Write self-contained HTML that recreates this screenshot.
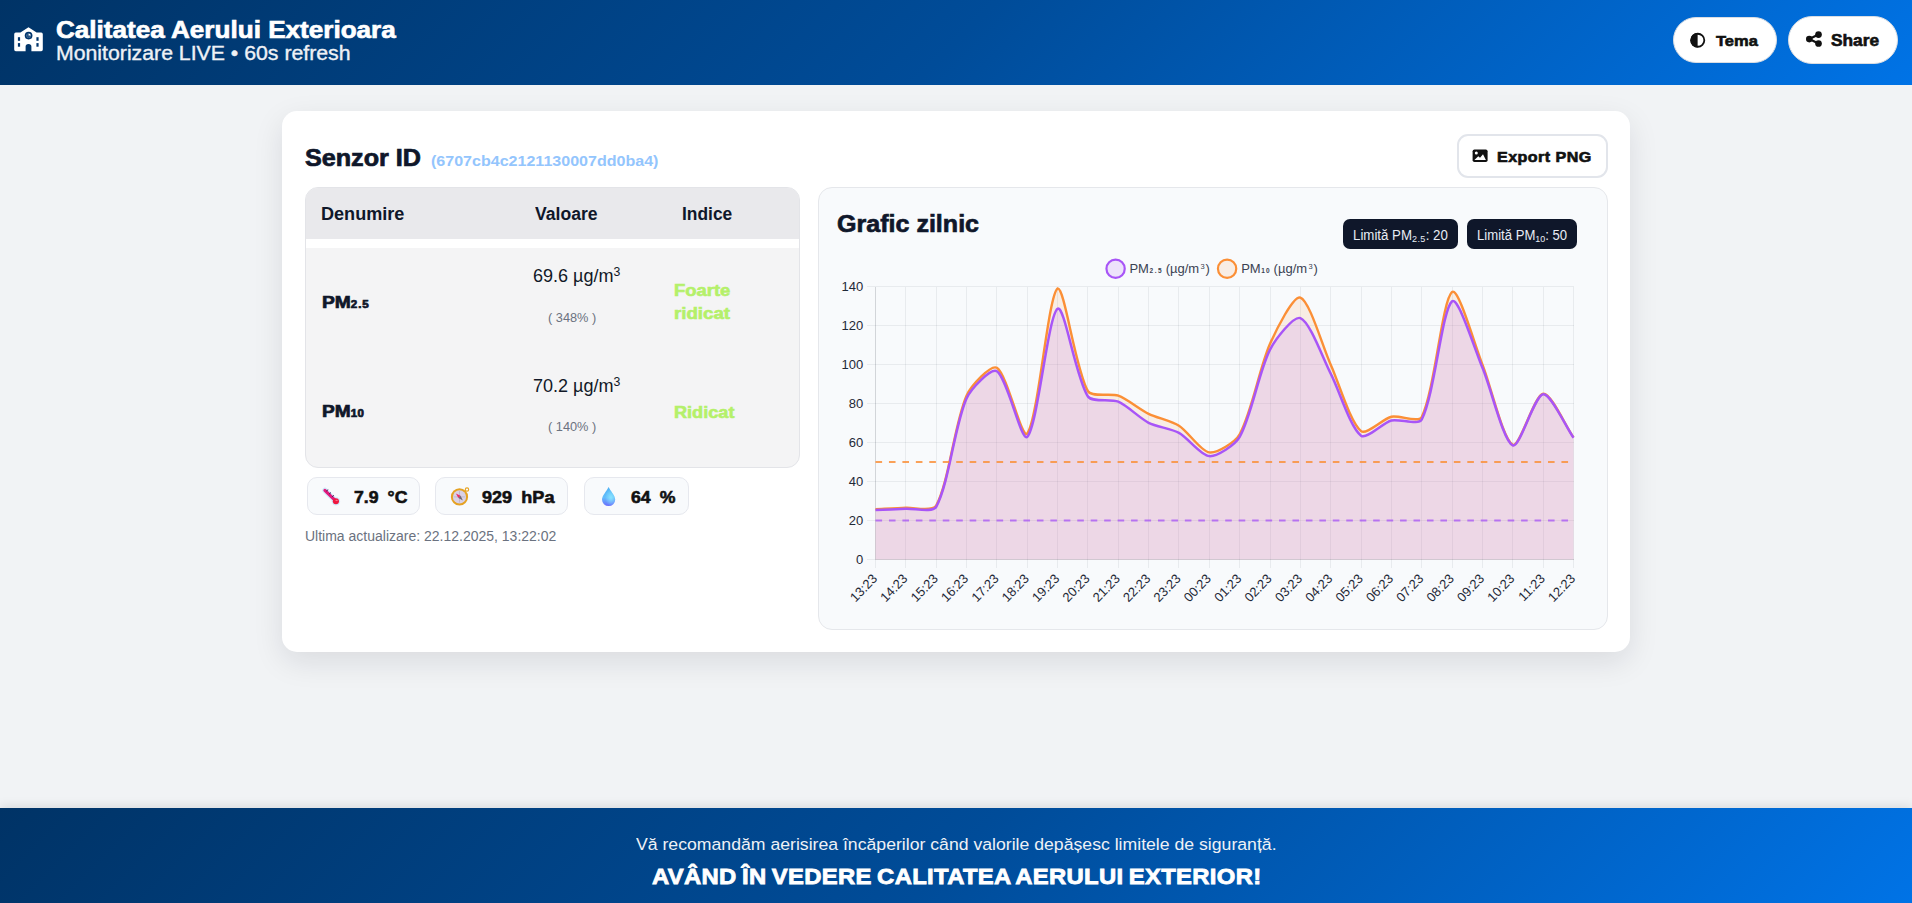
<!DOCTYPE html>
<html lang="ro">
<head>
<meta charset="utf-8">
<title>Calitatea Aerului Exterioara</title>
<style>
*{box-sizing:border-box;margin:0;padding:0}
html,body{width:1912px;height:903px;overflow:hidden}
body{font-family:"Liberation Sans",sans-serif;background:#f1f3f5;color:#0f172a;position:relative}
.abs{position:absolute}
.t{position:absolute;white-space:nowrap;line-height:1;transform-origin:0 0}
.blk{-webkit-text-stroke:0.6px currentColor}
header{position:absolute;left:0;top:0;width:1912px;height:85px;background:linear-gradient(135deg,#003366 0%,#004c99 50%,#0073e6 100%)}
footer{position:absolute;left:0;top:808px;width:1912px;height:95px;background:linear-gradient(135deg,#003366 0%,#004c99 50%,#0073e6 100%);box-shadow:0 -2px 10px rgba(0,0,0,.10)}
.pill{position:absolute;background:#fff;border-radius:999px;border:1px solid #d9dde3}
.card{position:absolute;left:282px;top:111px;width:1348px;height:541px;background:#fff;border-radius:15px;box-shadow:0 10px 30px rgba(15,23,42,.10)}
.export{position:absolute;left:1457px;top:134px;width:151px;height:43.6px;border:2px solid #e2e5eb;border-radius:11px;background:#fff}
.tbl{position:absolute;left:305px;top:187px;width:495px;height:281px;border:1px solid #e3e4e8;border-radius:13px;background:#f4f4f5;overflow:hidden}
.tbl .hd{position:absolute;left:0;top:0;width:100%;height:50.5px;background:#e9e9ec}
.tbl .gap{position:absolute;left:0;top:50.5px;width:100%;height:9.6px;background:#fff}
.chip{position:absolute;top:477.4px;height:38px;border:1px solid #e6e8ee;border-radius:10px;background:#f8fafc}
.panel{position:absolute;left:818px;top:187px;width:790px;height:443px;border:1px solid #e5e7eb;border-radius:14px;background:#f8fafc}
.badge{position:absolute;top:219px;height:30px;border-radius:7px;background:#0f172a}
svg{position:absolute;left:0;top:0}
svg text{font-family:"Liberation Sans",sans-serif}
</style>
</head>
<body>
<header></header>

<!-- header icon + titles -->
<svg width="1912" height="903" viewBox="0 0 1912 903" style="z-index:5;pointer-events:none">
  <!-- school icon -->
  <g fill="#fff">
    <path d="M28.5 27.2 L36.6 32.6 H41.2 Q42.8 32.6 42.8 34.2 V49.6 Q42.8 51.2 41.2 51.2 H31.4 V46.6 Q31.4 43.9 28.5 43.9 Q25.6 43.9 25.6 46.6 V51.2 H15.8 Q14.2 51.2 14.2 49.6 V34.2 Q14.2 32.6 15.8 32.6 H20.4 Z"/>
  </g>
  <g fill="#00356d">
    <circle cx="28.6" cy="35.6" r="3.85"/>
    <rect x="17.9" y="37.2" width="2.2" height="3.6"/>
    <rect x="17.9" y="43.1" width="2.2" height="3.6"/>
    <rect x="36.4" y="37.2" width="2.2" height="3.6"/>
    <rect x="36.4" y="43.1" width="2.2" height="3.6"/>
  </g>
  <circle cx="28.6" cy="35.6" r="2.2" fill="#fff"/>
  <path d="M28.6 35.6 L28.6 33.2 A2.4 2.4 0 0 0 26.2 35.6 A2.4 2.4 0 0 0 28.6 38 A2.4 2.4 0 0 0 31 35.6 Z" fill="#00356d" opacity=".85"/>
</svg>


<div class="pill" id="btnTema" style="left:1673px;top:17px;width:104px;height:46px"></div>
<div class="pill" id="btnShare" style="left:1788px;top:16px;width:110px;height:48px"></div>
<svg width="1912" height="903" viewBox="0 0 1912 903" style="z-index:6;pointer-events:none">
  <!-- tema icon -->
  <circle cx="1697.8" cy="40.25" r="6.5" fill="#fff" stroke="#111" stroke-width="1.8"/>
  <path d="M1697.6 32.9 A7.35 7.35 0 0 0 1697.6 47.6 Z" fill="#111"/>
  <!-- share icon -->
  <g fill="#111" stroke="#111">
    <circle cx="1818.5" cy="34.6" r="3.35" stroke="none"/>
    <circle cx="1818.5" cy="43.5" r="3.35" stroke="none"/>
    <circle cx="1809.3" cy="39.1" r="3.3" stroke="none"/>
    <path d="M1818.5 34.6 L1809.3 39.1 L1818.5 43.5" fill="none" stroke-width="2.2"/>
  </g>
</svg>

<div class="card"></div>

<div class="export"></div>
<svg width="1912" height="903" viewBox="0 0 1912 903" style="z-index:6;pointer-events:none">
  <rect x="1472.6" y="149.4" width="15" height="12.6" rx="1.8" fill="#111"/>
  <circle cx="1476.3" cy="153.1" r="1.5" fill="#fff"/>
  <path d="M1474.4 159.9 L1478.3 156.2 L1480 157.8 L1483 154.2 L1485.9 159.9 Z" fill="#fff"/>
</svg>

<!-- table -->
<div class="tbl"><div class="hd"></div><div class="gap"></div></div>




<!-- chips -->
<div class="chip" style="left:307px;width:113px"></div>
<div class="chip" style="left:435px;width:133px"></div>
<div class="chip" style="left:584px;width:105px"></div>
<svg width="1912" height="903" viewBox="0 0 1912 903" style="z-index:6;pointer-events:none">
  <!-- thermometer -->
  <defs>
    <linearGradient id="dropg" x1="0" y1="0" x2="0" y2="1"><stop offset="0" stop-color="#4fb2f4"/><stop offset=".55" stop-color="#62bdfb"/><stop offset="1" stop-color="#6b6ffd"/></linearGradient>
    <radialGradient id="droph" cx=".68" cy=".55" r=".45"><stop offset="0" stop-color="#8be6ff" stop-opacity=".95"/><stop offset="1" stop-color="#8be6ff" stop-opacity="0"/></radialGradient>
  </defs>
  <g>
    <path d="M324.9 490.3 L335.9 501.2" stroke="#cfeafc" stroke-width="5.4" stroke-linecap="round"/>
    <circle cx="335.9" cy="501.3" r="4.2" fill="#cfeafc"/>
    <path d="M324.9 490.3 L335.9 501.2" stroke="#e3197c" stroke-width="3.1" stroke-linecap="round"/>
    <circle cx="335.9" cy="501.3" r="3.05" fill="#ef173f"/>
    <ellipse cx="336.6" cy="500.4" rx="1.2" ry=".6" fill="#ff8aa0" opacity=".8"/>
    <g stroke="#3b2a5c" stroke-width="1" stroke-linecap="round">
      <path d="M326.6 490.9 L327.9 489.9"/><path d="M329.4 493.8 L330.7 492.8"/><path d="M332.3 496.6 L333.6 495.6"/>
    </g>
  </g>
  <!-- compass -->
  <g>
    <circle cx="467" cy="489.6" r="1.7" fill="#f8fafc" stroke="#e7a321" stroke-width="1.1"/>
    <circle cx="459.5" cy="496.9" r="8.6" fill="#e5a223"/>
    <circle cx="459.5" cy="496.9" r="6.6" fill="#d9d1e6"/>
    <path d="M459.5 491.2 V502.6 M453.8 496.9 H465.2" stroke="#a9a2b3" stroke-width=".6" opacity=".8"/>
    <path d="M455.9 493.4 L460.6 495.8 L458.4 498 Z" fill="#ec2a63"/>
    <path d="M462.9 500.5 L458.4 498 L460.6 495.8 Z" fill="#6e6873"/>
  </g>
  <!-- droplet -->
  <path d="M608.6 486.9 C610.6 491 615.2 495.6 615.2 499.6 A6.6 6.4 0 0 1 602 499.6 C602 495.6 606.6 491 608.6 486.9 Z" fill="url(#dropg)"/>
  <path d="M608.6 486.9 C610.6 491 615.2 495.6 615.2 499.6 A6.6 6.4 0 0 1 602 499.6 C602 495.6 606.6 491 608.6 486.9 Z" fill="url(#droph)"/>
</svg>


<!-- chart panel -->
<div class="panel"></div>
<div class="badge" style="left:1343px;width:115px"></div>
<div class="badge" style="left:1467px;width:110px"></div>

<svg width="1912" height="903" viewBox="0 0 1912 903" style="z-index:4;pointer-events:none">
  <g stroke="rgba(15,23,42,0.065)" stroke-width="1" shape-rendering="crispEdges">
<line x1="875.5" y1="286.5" x2="875.5" y2="567.5"/>
<line x1="905.5" y1="286.5" x2="905.5" y2="567.5"/>
<line x1="936.5" y1="286.5" x2="936.5" y2="567.5"/>
<line x1="966.5" y1="286.5" x2="966.5" y2="567.5"/>
<line x1="996.5" y1="286.5" x2="996.5" y2="567.5"/>
<line x1="1027.5" y1="286.5" x2="1027.5" y2="567.5"/>
<line x1="1057.5" y1="286.5" x2="1057.5" y2="567.5"/>
<line x1="1087.5" y1="286.5" x2="1087.5" y2="567.5"/>
<line x1="1118.5" y1="286.5" x2="1118.5" y2="567.5"/>
<line x1="1148.5" y1="286.5" x2="1148.5" y2="567.5"/>
<line x1="1178.5" y1="286.5" x2="1178.5" y2="567.5"/>
<line x1="1209.5" y1="286.5" x2="1209.5" y2="567.5"/>
<line x1="1239.5" y1="286.5" x2="1239.5" y2="567.5"/>
<line x1="1270.5" y1="286.5" x2="1270.5" y2="567.5"/>
<line x1="1300.5" y1="286.5" x2="1300.5" y2="567.5"/>
<line x1="1330.5" y1="286.5" x2="1330.5" y2="567.5"/>
<line x1="1361.5" y1="286.5" x2="1361.5" y2="567.5"/>
<line x1="1391.5" y1="286.5" x2="1391.5" y2="567.5"/>
<line x1="1421.5" y1="286.5" x2="1421.5" y2="567.5"/>
<line x1="1452.5" y1="286.5" x2="1452.5" y2="567.5"/>
<line x1="1482.5" y1="286.5" x2="1482.5" y2="567.5"/>
<line x1="1512.5" y1="286.5" x2="1512.5" y2="567.5"/>
<line x1="1543.5" y1="286.5" x2="1543.5" y2="567.5"/>
<line x1="1573.5" y1="286.5" x2="1573.5" y2="567.5"/>
<line x1="866.5" y1="559.5" x2="1573.5" y2="559.5"/>
<line x1="866.5" y1="520.5" x2="1573.5" y2="520.5"/>
<line x1="866.5" y1="481.5" x2="1573.5" y2="481.5"/>
<line x1="866.5" y1="442.5" x2="1573.5" y2="442.5"/>
<line x1="866.5" y1="403.5" x2="1573.5" y2="403.5"/>
<line x1="866.5" y1="364.5" x2="1573.5" y2="364.5"/>
<line x1="866.5" y1="325.5" x2="1573.5" y2="325.5"/>
<line x1="866.5" y1="286.5" x2="1573.5" y2="286.5"/>
  </g>
  <g stroke="rgba(15,23,42,0.10)" stroke-width="1" shape-rendering="crispEdges"><line x1="875.5" y1="286.5" x2="875.5" y2="559.5"/><line x1="875.5" y1="559.5" x2="1573.5" y2="559.5"/></g>
<path d="M875.50,509.15 C883.69,508.78 897.66,508.26 905.85,507.78 C914.05,507.31 932.75,512.01 936.20,505.64 C949.13,481.74 954.50,423.02 966.54,395.68 C970.89,385.80 990.95,364.09 996.89,367.80 C1007.33,374.31 1021.86,440.53 1027.24,433.50 C1038.25,419.11 1048.08,295.08 1057.59,288.45 C1064.46,286.50 1075.19,368.69 1087.93,391.20 C1091.58,397.64 1110.67,392.84 1118.28,395.68 C1127.06,398.95 1140.10,409.59 1148.63,413.81 C1156.49,417.70 1171.66,421.05 1178.98,425.70 C1188.05,431.47 1200.58,451.18 1209.33,452.41 C1216.97,453.50 1235.24,442.21 1239.67,434.28 C1251.63,412.89 1259.65,367.18 1270.02,343.82 C1276.03,330.28 1293.34,295.20 1300.37,297.61 C1309.73,300.83 1322.49,346.59 1330.72,364.68 C1338.88,382.64 1349.84,421.54 1361.07,431.16 C1366.23,435.59 1382.80,418.76 1391.41,416.74 C1399.19,414.91 1418.63,423.36 1421.76,416.93 C1435.02,389.67 1441.95,300.71 1452.11,291.96 C1458.33,286.60 1474.61,344.91 1482.46,364.68 C1490.99,386.18 1503.13,440.18 1512.80,444.81 C1519.51,448.02 1534.50,394.79 1543.15,393.73 C1550.89,392.79 1565.31,425.61 1573.50,437.40 L1573.50,559.45 L875.50,559.45 Z" fill="rgba(251,146,60,0.12)"/>
<path d="M875.50,510.12 C883.69,509.76 897.66,509.21 905.85,508.76 C914.05,508.31 932.71,513.15 936.20,506.81 C949.10,483.35 954.51,425.28 966.54,398.41 C970.89,388.70 990.98,367.57 996.89,371.31 C1007.37,377.94 1021.43,442.80 1027.24,436.82 C1037.82,425.90 1047.98,315.12 1057.59,308.73 C1064.36,304.22 1075.63,377.61 1087.93,396.46 C1092.02,402.72 1110.83,398.49 1118.28,401.72 C1127.22,405.60 1139.85,418.27 1148.63,422.78 C1156.24,426.69 1171.51,428.82 1178.98,432.92 C1187.90,437.82 1200.89,455.58 1209.33,456.12 C1217.27,456.63 1235.08,444.88 1239.67,436.82 C1251.47,416.14 1258.91,371.41 1270.02,349.67 C1275.30,339.35 1293.67,315.44 1300.37,318.08 C1310.06,321.91 1322.88,358.46 1330.72,373.65 C1339.27,390.21 1350.08,427.18 1361.07,435.65 C1366.47,439.81 1382.76,422.75 1391.41,420.44 C1399.15,418.38 1418.49,425.88 1421.76,419.47 C1434.88,393.71 1441.86,310.04 1452.11,301.32 C1458.25,296.09 1474.80,349.62 1482.46,367.80 C1491.19,388.52 1503.24,441.22 1512.80,445.40 C1519.63,448.38 1534.49,395.40 1543.15,394.32 C1550.88,393.35 1565.31,426.05 1573.50,437.79 L1573.50,559.45 L875.50,559.45 Z" fill="rgba(168,85,247,0.14)"/>
<path d="M875.50,509.15 C883.69,508.78 897.66,508.26 905.85,507.78 C914.05,507.31 932.75,512.01 936.20,505.64 C949.13,481.74 954.50,423.02 966.54,395.68 C970.89,385.80 990.95,364.09 996.89,367.80 C1007.33,374.31 1021.86,440.53 1027.24,433.50 C1038.25,419.11 1048.08,295.08 1057.59,288.45 C1064.46,286.50 1075.19,368.69 1087.93,391.20 C1091.58,397.64 1110.67,392.84 1118.28,395.68 C1127.06,398.95 1140.10,409.59 1148.63,413.81 C1156.49,417.70 1171.66,421.05 1178.98,425.70 C1188.05,431.47 1200.58,451.18 1209.33,452.41 C1216.97,453.50 1235.24,442.21 1239.67,434.28 C1251.63,412.89 1259.65,367.18 1270.02,343.82 C1276.03,330.28 1293.34,295.20 1300.37,297.61 C1309.73,300.83 1322.49,346.59 1330.72,364.68 C1338.88,382.64 1349.84,421.54 1361.07,431.16 C1366.23,435.59 1382.80,418.76 1391.41,416.74 C1399.19,414.91 1418.63,423.36 1421.76,416.93 C1435.02,389.67 1441.95,300.71 1452.11,291.96 C1458.33,286.60 1474.61,344.91 1482.46,364.68 C1490.99,386.18 1503.13,440.18 1512.80,444.81 C1519.51,448.02 1534.50,394.79 1543.15,393.73 C1550.89,392.79 1565.31,425.61 1573.50,437.40" fill="none" stroke="#fb8f36" stroke-width="2.4" stroke-linejoin="round" stroke-linecap="butt"/>
<path d="M875.50,510.12 C883.69,509.76 897.66,509.21 905.85,508.76 C914.05,508.31 932.71,513.15 936.20,506.81 C949.10,483.35 954.51,425.28 966.54,398.41 C970.89,388.70 990.98,367.57 996.89,371.31 C1007.37,377.94 1021.43,442.80 1027.24,436.82 C1037.82,425.90 1047.98,315.12 1057.59,308.73 C1064.36,304.22 1075.63,377.61 1087.93,396.46 C1092.02,402.72 1110.83,398.49 1118.28,401.72 C1127.22,405.60 1139.85,418.27 1148.63,422.78 C1156.24,426.69 1171.51,428.82 1178.98,432.92 C1187.90,437.82 1200.89,455.58 1209.33,456.12 C1217.27,456.63 1235.08,444.88 1239.67,436.82 C1251.47,416.14 1258.91,371.41 1270.02,349.67 C1275.30,339.35 1293.67,315.44 1300.37,318.08 C1310.06,321.91 1322.88,358.46 1330.72,373.65 C1339.27,390.21 1350.08,427.18 1361.07,435.65 C1366.47,439.81 1382.76,422.75 1391.41,420.44 C1399.15,418.38 1418.49,425.88 1421.76,419.47 C1434.88,393.71 1441.86,310.04 1452.11,301.32 C1458.25,296.09 1474.80,349.62 1482.46,367.80 C1491.19,388.52 1503.24,441.22 1512.80,445.40 C1519.63,448.38 1534.49,395.40 1543.15,394.32 C1550.88,393.35 1565.31,426.05 1573.50,437.79" fill="none" stroke="#a855f7" stroke-width="2.5" stroke-linejoin="round" stroke-linecap="butt"/>
  <line x1="875.5" y1="462" x2="1573.5" y2="462" stroke="#fb923c" stroke-width="2" stroke-dasharray="6.6 6.85" opacity=".85"/>
  <line x1="875.5" y1="520.4" x2="1573.5" y2="520.4" stroke="#a855f7" stroke-width="2" stroke-dasharray="6.6 6.85" opacity=".75"/>
  <g font-size="13" fill="#1f2937">
<text x="863.2" y="563.9" text-anchor="end">0</text>
<text x="863.2" y="524.9" text-anchor="end">20</text>
<text x="863.2" y="485.9" text-anchor="end">40</text>
<text x="863.2" y="446.9" text-anchor="end">60</text>
<text x="863.2" y="407.9" text-anchor="end">80</text>
<text x="863.2" y="368.9" text-anchor="end">100</text>
<text x="863.2" y="329.9" text-anchor="end">120</text>
<text x="863.2" y="290.9" text-anchor="end">140</text>
<text transform="translate(878.1,579.4) rotate(-46)" text-anchor="end">13:23</text>
<text transform="translate(908.4,579.4) rotate(-46)" text-anchor="end">14:23</text>
<text transform="translate(938.8,579.4) rotate(-46)" text-anchor="end">15:23</text>
<text transform="translate(969.1,579.4) rotate(-46)" text-anchor="end">16:23</text>
<text transform="translate(999.5,579.4) rotate(-46)" text-anchor="end">17:23</text>
<text transform="translate(1029.8,579.4) rotate(-46)" text-anchor="end">18:23</text>
<text transform="translate(1060.2,579.4) rotate(-46)" text-anchor="end">19:23</text>
<text transform="translate(1090.5,579.4) rotate(-46)" text-anchor="end">20:23</text>
<text transform="translate(1120.9,579.4) rotate(-46)" text-anchor="end">21:23</text>
<text transform="translate(1151.2,579.4) rotate(-46)" text-anchor="end">22:23</text>
<text transform="translate(1181.6,579.4) rotate(-46)" text-anchor="end">23:23</text>
<text transform="translate(1211.9,579.4) rotate(-46)" text-anchor="end">00:23</text>
<text transform="translate(1242.3,579.4) rotate(-46)" text-anchor="end">01:23</text>
<text transform="translate(1272.6,579.4) rotate(-46)" text-anchor="end">02:23</text>
<text transform="translate(1303.0,579.4) rotate(-46)" text-anchor="end">03:23</text>
<text transform="translate(1333.3,579.4) rotate(-46)" text-anchor="end">04:23</text>
<text transform="translate(1363.7,579.4) rotate(-46)" text-anchor="end">05:23</text>
<text transform="translate(1394.0,579.4) rotate(-46)" text-anchor="end">06:23</text>
<text transform="translate(1424.4,579.4) rotate(-46)" text-anchor="end">07:23</text>
<text transform="translate(1454.7,579.4) rotate(-46)" text-anchor="end">08:23</text>
<text transform="translate(1485.1,579.4) rotate(-46)" text-anchor="end">09:23</text>
<text transform="translate(1515.4,579.4) rotate(-46)" text-anchor="end">10:23</text>
<text transform="translate(1545.8,579.4) rotate(-46)" text-anchor="end">11:23</text>
<text transform="translate(1576.1,579.4) rotate(-46)" text-anchor="end">12:23</text>
  </g>
  <!-- legend -->
  <circle cx="1115.6" cy="268.7" r="9.15" fill="rgba(168,85,247,0.14)" stroke="#a855f7" stroke-width="2.2"/>
  <circle cx="1227.1" cy="268.7" r="9.15" fill="rgba(251,146,60,0.12)" stroke="#fb8f36" stroke-width="2.2"/>
  <g font-size="13" fill="#3b4252">
    <text y="272.9"><tspan x="1129.4">PM</tspan><tspan x="1149.6" y="273" font-size="6.5" font-weight="700" letter-spacing="1.5">2.5</tspan><tspan x="1162.1" y="272.9"> (µg/m</tspan><tspan x="1200.6" y="268.9" font-size="7.5">3</tspan><tspan x="1205.6" y="272.9">)</tspan></text>
    <text y="272.9"><tspan x="1241.2">PM</tspan><tspan x="1261.3" y="273" font-size="6.5" font-weight="700" letter-spacing="1">10</tspan><tspan x="1270" y="272.9"> (µg/m</tspan><tspan x="1308.4" y="268.9" font-size="7.5">3</tspan><tspan x="1313.4" y="272.9">)</tspan></text>
  </g>
</svg>

<footer></footer>
<div class="t" id="h1" style="left:56.41px;top:18.16px;font-size:24.50px;font-weight:700;color:#fff;transform:scaleX(1.0648);-webkit-text-stroke:0.70px #fff;">Calitatea Aerului Exterioara</div>
<div class="t" id="h2" style="left:56.17px;top:44.02px;font-size:19.70px;font-weight:400;color:#eef1f6;transform:scaleX(1.0798);-webkit-text-stroke:0.35px #eef1f6;">Monitorizare LIVE • 60s refresh</div>
<div class="t" id="tTema" style="left:1715.89px;top:33.10px;font-size:15.00px;font-weight:700;color:#111;transform:scaleX(1.1000);-webkit-text-stroke:0.60px #111;">Tema</div>
<div class="t" id="tShare" style="left:1831.37px;top:33.03px;font-size:15.80px;font-weight:700;color:#111;transform:scaleX(1.0955);-webkit-text-stroke:0.60px #111;">Share</div>
<div class="t" id="tSenzor" style="left:305.00px;top:146.53px;font-size:23.00px;font-weight:700;color:#0f172a;transform:scaleX(1.0934);-webkit-text-stroke:0.70px #0f172a;">Senzor ID</div>
<div class="t" id="tId" style="left:431.16px;top:153.73px;font-size:14.50px;font-weight:700;color:#93c5fd;transform:scaleX(1.1063);">(6707cb4c2121130007dd0ba4)</div>
<div class="t" id="tExport" style="left:1497.21px;top:149.56px;font-size:14.10px;font-weight:700;color:#111;transform:scaleX(1.1398);-webkit-text-stroke:0.60px #111;letter-spacing:.4px">Export PNG</div>
<div class="t" id="thD" style="left:321.40px;top:204.86px;font-size:18.00px;font-weight:700;color:#0f172a;transform:scaleX(1.0049);">Denumire</div>
<div class="t" id="thV" style="left:534.60px;top:204.86px;font-size:18.00px;font-weight:700;color:#0f172a;transform:scaleX(0.9766);">Valoare</div>
<div class="t" id="thI" style="left:681.61px;top:204.86px;font-size:18.00px;font-weight:700;color:#0f172a;transform:scaleX(0.9654);">Indice</div>
<div class="t" id="pm25" style="left:322.00px;top:295.08px;font-size:16.80px;font-weight:700;color:#0f172a;transform:scaleX(1.1452);-webkit-text-stroke:0.70px #0f172a;">PM<span style="font-size:.6em;letter-spacing:.8px">2.5</span></div>
<div class="t" id="pm10" style="left:322.00px;top:404.18px;font-size:16.80px;font-weight:700;color:#0f172a;transform:scaleX(1.1378);-webkit-text-stroke:0.70px #0f172a;">PM<span style="font-size:.6em;letter-spacing:.5px">10</span></div>
<div class="t" id="v25" style="left:532.60px;top:266.66px;font-size:18.00px;font-weight:400;color:#111827;transform:scaleX(1.0011);">69.6 µg/m<span style="font-size:.68em;position:relative;top:-.46em">3</span></div>
<div class="t" id="p25" style="left:548.41px;top:311.40px;font-size:13.00px;font-weight:400;color:#6b7280;transform:scaleX(0.9816);">( 348% )</div>
<div class="t" id="v10" style="left:532.60px;top:376.66px;font-size:18.00px;font-weight:400;color:#111827;transform:scaleX(1.0011);">70.2 µg/m<span style="font-size:.68em;position:relative;top:-.46em">3</span></div>
<div class="t" id="p10" style="left:548.41px;top:420.40px;font-size:13.00px;font-weight:400;color:#6b7280;transform:scaleX(0.9816);">( 140% )</div>
<div class="t" id="i25a" style="left:673.57px;top:283.03px;font-size:15.80px;font-weight:700;color:#b4f06a;transform:scaleX(1.1667);-webkit-text-stroke:0.60px #b4f06a;">Foarte</div>
<div class="t" id="i25b" style="left:673.56px;top:306.43px;font-size:15.80px;font-weight:700;color:#b4f06a;transform:scaleX(1.1813);-webkit-text-stroke:0.60px #b4f06a;">ridicat</div>
<div class="t" id="i10" style="left:673.57px;top:404.53px;font-size:15.80px;font-weight:700;color:#b4f06a;transform:scaleX(1.1472);-webkit-text-stroke:0.60px #b4f06a;">Ridicat</div>
<div class="t" id="c1" style="left:353.61px;top:488.71px;font-size:17.00px;font-weight:700;color:#111;transform:scaleX(1.0385);-webkit-text-stroke:0.60px #111;word-spacing:4px">7.9 °C</div>
<div class="t" id="c2" style="left:482.00px;top:488.71px;font-size:17.00px;font-weight:700;color:#111;transform:scaleX(1.0609);-webkit-text-stroke:0.60px #111;word-spacing:4px">929 hPa</div>
<div class="t" id="c3" style="left:631.02px;top:488.71px;font-size:17.00px;font-weight:700;color:#111;transform:scaleX(1.0386);-webkit-text-stroke:0.60px #111;word-spacing:4px">64 %</div>
<div class="t" id="upd" style="left:304.85px;top:527.86px;font-size:15.40px;font-weight:400;color:#6b7280;transform:scaleX(0.9094);">Ultima actualizare: 22.12.2025, 13:22:02</div>
<div class="t" id="tGrafic" style="left:837.20px;top:211.89px;font-size:24.70px;font-weight:700;color:#0f172a;transform:scaleX(1.0150);-webkit-text-stroke:0.70px #0f172a;">Grafic zilnic</div>
<div class="t" id="b1" style="left:1353.42px;top:227.95px;font-size:14.00px;font-weight:400;color:#e8edf5;transform:scaleX(0.9480);z-index:3">Limită PM<span style="font-size:.68em;position:relative;top:2px;letter-spacing:.4px">2.5</span>: 20</div>
<div class="t" id="b2" style="left:1477.03px;top:227.95px;font-size:14.00px;font-weight:400;color:#e8edf5;transform:scaleX(0.9375);z-index:3">Limită PM<span style="font-size:.68em;position:relative;top:2px">10</span>: 50</div>
<div class="t" id="f1" style="left:636.25px;top:835.70px;font-size:16.30px;font-weight:400;color:#eef1f6;transform:scaleX(1.0839);z-index:3">Vă recomandăm aerisirea încăperilor când valorile depășesc limitele de siguranță.</div>
<div class="t" id="f2" style="left:651.62px;top:865.71px;font-size:22.20px;font-weight:700;color:#fff;transform:scaleX(1.0747);-webkit-text-stroke:0.80px #fff;z-index:3;letter-spacing:.3px;word-spacing:-1.5px">AVÂND ÎN VEDERE CALITATEA AERULUI EXTERIOR!</div>
</body>
</html>
